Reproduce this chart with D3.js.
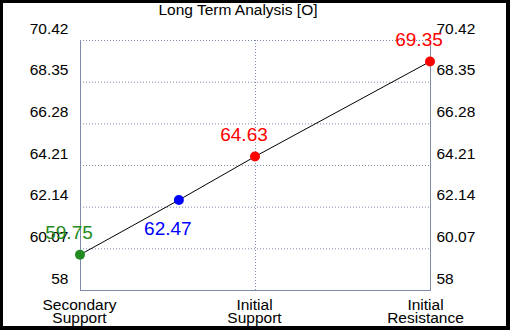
<!DOCTYPE html>
<html>
<head>
<meta charset="utf-8">
<script src="https://cdn.jsdelivr.net/npm/d3@7"></script>
<style>
  html, body { margin: 0; padding: 0; background: #000; }
  svg { display: block; font-family: 'Liberation Sans', Arial, sans-serif; }
</style>
</head>
<body>
<div id="chart"></div>
<script>
// data
const categories = [['Secondary', 'Support'], ['Initial', 'Support'], ['Initial', 'Resistance']]
const categoryPos = [0, 1, 2]
const pointNames = ['Secondary Support', 'Current', 'Initial Support', 'Initial Resistance']
const pointPos = [0, 0.565, 1, 2]
const pointValues = [59.75, 62.47, 64.63, 69.35]
const pointColors = ['#228b22', '#0000ff', '#ff0000', '#ff0000']
const yTicks = [58, 60.07, 62.14, 64.21, 66.28, 68.35, 70.42]

const width = 510
const height = 330
const margin = { top: 40, right: 80, bottom: 40, left: 80 }
const axisColor = '#7d8cab'

const svg = d3.select('#chart').append('svg')
  .attr('width', width)
  .attr('height', height)

svg.append('rect')
  .attr('x', 3).attr('y', 3)
  .attr('width', 503).attr('height', 323)
  .attr('fill', '#fff')

const x = d3.scaleLinear()
  .domain([0, 2])
  .range([margin.left, width - margin.right])

const y = d3.scaleLinear()
  .domain([58, 70.42])
  .range([height - margin.bottom, margin.top])

// grid
svg.append('g')
  .selectAll('line')
  .data(yTicks)
  .enter()
  .append('line')
  .attr('x1', x(0)).attr('x2', x(2))
  .attr('y1', d => y(d) + 0.5).attr('y2', d => y(d) + 0.5)
  .attr('stroke', axisColor)
  .attr('stroke-dasharray', '1,2')

svg.append('g')
  .selectAll('line')
  .data(categoryPos.slice(1, -1))
  .enter()
  .append('line')
  .attr('x1', d => x(d) + 0.5).attr('x2', d => x(d) + 0.5)
  .attr('y1', y(70.42)).attr('y2', y(58))
  .attr('stroke', axisColor)
  .attr('stroke-dasharray', '1,2')

// axes
const fmt = d => String(d)

const left = svg.append('g')
  .attr('transform', `translate(${x(0) + 0.5},0)`)
  .call(d3.axisLeft(y).tickValues(yTicks).tickFormat(fmt).tickSize(0))
left.select('.domain').attr('stroke', axisColor).attr('d', `M0,${y(70.42)}V${y(58)}`)

const right = svg.append('g')
  .attr('transform', `translate(${x(2) + 0.5},0)`)
  .call(d3.axisRight(y).tickValues(yTicks).tickFormat(fmt).tickSize(0))
right.select('.domain').attr('stroke', axisColor).attr('d', `M0,${y(70.42)}V${y(58)}`)

svg.selectAll('.tick text')
  .attr('dy', '-7px')
  .style('font-size', '15.5px')
  .style('font-family', "'Liberation Sans', Arial, sans-serif")
  .attr('fill', '#000')
left.selectAll('.tick text').attr('x', -12)
right.selectAll('.tick text').attr('x', 6)

const bottom = svg.append('g')
  .attr('transform', `translate(0,${y(58) + 0.5})`)
  .call(d3.axisBottom(x).tickValues(categoryPos).tickSize(0).tickFormat(''))
bottom.select('.domain').attr('stroke', axisColor).attr('d', `M${x(0)},0H${x(2) + 1}`)

bottom.selectAll('.tick text')
  .data(categories)
  .style('font-size', '15.5px')
  .style('font-family', "'Liberation Sans', Arial, sans-serif")
  .attr('fill', '#000')
  .attr('y', 0)
  .attr('dy', null)
  .each(function (d, i) {
    const t = d3.select(this)
    // the last label is nudged left to stay inside the frame
    const shift = i === categories.length - 1 ? -5 : -1
    t.append('tspan').attr('x', shift).attr('y', 19).text(d[0])
    t.append('tspan').attr('x', shift).attr('y', 32).text(d[1])
  })

// title
svg.append('text')
  .attr('x', 238)
  .attr('y', 15)
  .attr('text-anchor', 'middle')
  .style('font-size', '15.5px')
  .text('Long Term Analysis [O]')

// line and points
const points = pointValues.map((v, i) => ({ name: pointNames[i], pos: pointPos[i], value: v, color: pointColors[i] }))

svg.append('path')
  .datum(points)
  .attr('fill', 'none')
  .attr('stroke', '#000')
  .attr('stroke-width', 1)
  .attr('d', d3.line().x(d => x(d.pos)).y(d => y(d.value)))

svg.append('g')
  .selectAll('circle')
  .data(points)
  .enter()
  .append('circle')
  .attr('cx', d => x(d.pos))
  .attr('cy', d => y(d.value))
  .attr('r', 5)
  .attr('fill', d => d.color)

svg.append('g')
  .selectAll('text')
  .data(points)
  .enter()
  .append('text')
  .attr('x', d => x(d.pos) - 11)
  .attr('y', d => y(d.value) + (d.name === 'Current' ? 35 : -16))
  .attr('text-anchor', 'middle')
  .attr('fill', d => d.color)
  .style('font-size', '19px')
  .text(d => d.value.toFixed(2))
</script>
</body>
</html>
